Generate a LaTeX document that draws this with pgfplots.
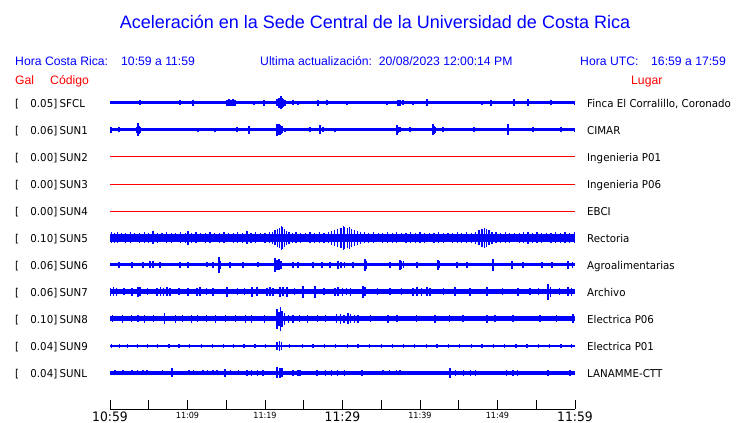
\documentclass[border=0pt]{standalone}
\usepackage{pgfplots}
\pgfplotsset{compat=1.18}
\usepackage{fontspec}
\setmainfont{Liberation Sans}
\newfontfamily\dv[FakeStretch=0.95]{DejaVu Sans}
\definecolor{tblue}{RGB}{0,0,255}
\definecolor{tred}{RGB}{255,0,0}
\pgfplotsset{
  band/.style={draw=tblue, line width=#1, forget plot},
  spk/.style={color=tblue, draw=none, mark=none, forget plot,
    error bars/.cd, y dir=both, y explicit, error mark=none,
    error bar style={draw=tblue, line width=1.2pt}},
}
\begin{document}
\begin{tikzpicture}[x=1pt,y=1pt]
\useasboundingbox (0,0) rectangle (740,423);
\begin{axis}[at={(0pt,0pt)}, anchor=south west, scale only axis,
  width=740pt, height=423pt,
  xmin=-14.1935, xmax=81.2903, ymin=0, ymax=423,
  hide axis, clip=false]
% ---- SFCL (Y=320)
\addplot[band=3pt] coordinates {(0,320) (60,320)};
\addplot[spk] coordinates {
(3.87,320)+-(0,2.5) (9.03,320)+-(0,2.5) (10.71,320)+-(0,3) (15.10,320)+-(0,3)
(15.35,320)+-(0,3.5) (15.61,320)+-(0,3) (15.87,320)+-(0,3.5) (16.13,320)+-(0,3)
(18.58,320)+-(0,2) (19.87,320)+-(0,3) (21.55,320)+-(0,3.5) (21.81,320)+-(0,5)
(22.06,320)+-(0,6.5) (22.19,320)+-(0,5) (22.32,320)+-(0,4) (22.58,320)+-(0,3)
(23.61,320)+-(0,2.5) (24.26,320)+-(0,2) (26.84,320)+-(0,3) (28.0,320)+-(0,2.5)
(30.58,320)+-(0,2) (35.74,320)+-(0,2) (37.16,320)+-(0,3) (37.42,320)+-(0,3)
(37.81,320)+-(0,2.5) (39.10,320)+-(0,2) (40.90,320)+-(0,3.5) (48.0,320)+-(0,2)
(49.16,320)+-(0,3) (52.13,320)+-(0,3.5) (53.94,320)+-(0,3.5) (56.90,320)+-(0,2.5)
(59.9,320)+-(0,2)};
% ---- SUN1 (Y=293)
\addplot[band=3pt] coordinates {(0,293) (60,293)};
\addplot[spk] coordinates {
(0.13,293)+-(0,3) (1.16,293)+-(0,2.5) (3.48,293)+-(0,3) (3.61,293)+-(0,6.5)
(3.74,293)+-(0,4) (3.87,293)+-(0,3) (11.35,293)+-(0,2) (13.55,293)+-(0,2)
(16.39,293)+-(0,2.5) (17.94,293)+-(0,4) (21.55,293)+-(0,6) (21.81,293)+-(0,5.5)
(21.94,293)+-(0,5) (22.06,293)+-(0,4) (22.19,293)+-(0,3.5) (22.58,293)+-(0,2)
(25.81,293)+-(0,2.5) (27.10,293)+-(0,4.5) (27.48,293)+-(0,2.5) (29.03,293)+-(0,2)
(37.03,293)+-(0,5) (37.16,293)+-(0,3) (37.42,293)+-(0,2.5) (38.71,293)+-(0,2.5)
(41.68,293)+-(0,5.5) (41.81,293)+-(0,4) (41.94,293)+-(0,3) (42.97,293)+-(0,2.5)
(46.97,293)+-(0,2.5) (51.35,293)+-(0,5.5) (54.58,293)+-(0,2.5) (58.19,293)+-(0,2.5)
(59.9,293)+-(0,2)};
% ---- SUN2, SUN3, SUN4 (flat)
\addplot[draw=tred, line width=1pt, forget plot] coordinates {(0,266.5) (60,266.5)};
\addplot[draw=tred, line width=1pt, forget plot] coordinates {(0,238.5) (60,238.5)};
\addplot[draw=tred, line width=1pt, forget plot] coordinates {(0,211.5) (60,211.5)};
% ---- SUN5 (Y=185)
\addplot[band=8pt] coordinates {(0,185) (60,185)};
\addplot[spk] coordinates {
(0.2,185)+-(0,5.5) (0.6,185)+-(0,5) (1.0,185)+-(0,5.5) (1.5,185)+-(0,4.5)
(2.0,185)+-(0,5) (2.6,185)+-(0,5.5) (3.2,185)+-(0,4.5) (3.8,185)+-(0,5)
(4.4,185)+-(0,5.5) (5.0,185)+-(0,5) (5.55,185)+-(0,6.5) (6.1,185)+-(0,5)
(6.7,185)+-(0,4.5) (7.3,185)+-(0,5.5) (7.9,185)+-(0,5) (8.5,185)+-(0,4.5)
(9.1,185)+-(0,5.5) (9.7,185)+-(0,5) (10.06,185)+-(0,7) (10.5,185)+-(0,5)
(11.1,185)+-(0,5.5) (11.7,185)+-(0,4.5) (12.3,185)+-(0,5) (12.9,185)+-(0,5.5)
(13.5,185)+-(0,4.5) (14.1,185)+-(0,5) (14.7,185)+-(0,5.5) (15.3,185)+-(0,4.5)
(15.9,185)+-(0,5) (16.5,185)+-(0,5.5) (17.1,185)+-(0,5) (17.68,185)+-(0,6.5)
(18.2,185)+-(0,5) (18.8,185)+-(0,5.5) (19.4,185)+-(0,4.5) (20.0,185)+-(0,5)
(20.6,185)+-(0,5.5) (21.0,185)+-(0,6) (21.3,185)+-(0,7.5) (21.6,185)+-(0,9)
(21.9,185)+-(0,10) (22.1,185)+-(0,12) (22.3,185)+-(0,11) (22.5,185)+-(0,9)
(22.8,185)+-(0,7) (23.1,185)+-(0,6) (23.5,185)+-(0,5) (24.0,185)+-(0,5.5)
(24.6,185)+-(0,5) (25.2,185)+-(0,4.5) (25.8,185)+-(0,5.5) (26.4,185)+-(0,5)
(27.0,185)+-(0,5.5) (27.6,185)+-(0,5) (28.2,185)+-(0,5.5) (28.6,185)+-(0,7)
(29.0,185)+-(0,8) (29.4,185)+-(0,9) (29.8,185)+-(0,10) (30.1,185)+-(0,12)
(30.3,185)+-(0,11) (30.6,185)+-(0,10) (30.9,185)+-(0,11) (31.2,185)+-(0,9)
(31.5,185)+-(0,8) (31.9,185)+-(0,7) (32.3,185)+-(0,6) (32.8,185)+-(0,5.5)
(33.4,185)+-(0,5) (34.0,185)+-(0,5.5) (34.6,185)+-(0,4.5) (35.2,185)+-(0,5)
(35.8,185)+-(0,5.5) (36.4,185)+-(0,5) (37.0,185)+-(0,5.5) (37.6,185)+-(0,4.5)
(38.2,185)+-(0,5) (38.8,185)+-(0,5.5) (39.4,185)+-(0,5) (40.0,185)+-(0,5.5)
(40.6,185)+-(0,5) (41.2,185)+-(0,4.5) (41.8,185)+-(0,5) (42.4,185)+-(0,5.5)
(43.0,185)+-(0,5) (43.6,185)+-(0,4.5) (44.2,185)+-(0,5) (44.8,185)+-(0,5.5)
(45.4,185)+-(0,5) (46.0,185)+-(0,5.5) (46.6,185)+-(0,5) (47.2,185)+-(0,6)
(47.6,185)+-(0,7.5) (48.0,185)+-(0,9) (48.3,185)+-(0,10) (48.6,185)+-(0,9)
(48.9,185)+-(0,7.5) (49.3,185)+-(0,6) (49.8,185)+-(0,5.5) (50.4,185)+-(0,5)
(51.0,185)+-(0,5.5) (51.6,185)+-(0,5) (52.2,185)+-(0,4.5) (52.8,185)+-(0,5)
(53.4,185)+-(0,5.5) (53.94,185)+-(0,6) (54.5,185)+-(0,5) (55.1,185)+-(0,5.5)
(55.7,185)+-(0,5) (56.3,185)+-(0,4.5) (56.9,185)+-(0,5) (57.5,185)+-(0,5.5)
(58.1,185)+-(0,5) (58.7,185)+-(0,5.5) (59.3,185)+-(0,5) (59.9,185)+-(0,5.5)};
% ---- SUN6 (Y=158)
\addplot[band=3pt] coordinates {(0,158) (60,158)};
\addplot[spk] coordinates {
(1.16,158)+-(0,3) (2.84,158)+-(0,3) (4.26,158)+-(0,3) (5.16,158)+-(0,3.5)
(5.55,158)+-(0,3.5) (6.45,158)+-(0,3) (9.03,158)+-(0,3) (10.06,158)+-(0,3)
(12.52,158)+-(0,2.5) (13.29,158)+-(0,3) (14.06,158)+-(0,8) (14.3,158)+-(0,4)
(15.48,158)+-(0,3) (17.16,158)+-(0,3) (19.10,158)+-(0,2.5) (21.29,158)+-(0,7)
(21.55,158)+-(0,5) (21.81,158)+-(0,5.5) (22.06,158)+-(0,4) (23.61,158)+-(0,3)
(24.26,158)+-(0,3) (26.19,158)+-(0,3) (27.35,158)+-(0,3) (28.39,158)+-(0,3)
(29.42,158)+-(0,4) (29.8,158)+-(0,3) (30.3,158)+-(0,3) (31.35,158)+-(0,3)
(32.90,158)+-(0,6) (33.1,158)+-(0,4) (36.13,158)+-(0,3) (37.42,158)+-(0,5)
(37.6,158)+-(0,4) (37.9,158)+-(0,3.5) (39.61,158)+-(0,3) (42.32,158)+-(0,5)
(42.5,158)+-(0,3.5) (44.77,158)+-(0,3) (46.06,158)+-(0,3) (49.42,158)+-(0,6)
(51.87,158)+-(0,4) (53.29,158)+-(0,3) (55.74,158)+-(0,3) (57.03,158)+-(0,3)
(59.10,158)+-(0,4) (59.7,158)+-(0,3)};
% ---- SUN7 (Y=131)
\addplot[band=5pt] coordinates {(0,131) (60,131)};
\addplot[spk] coordinates {
(0.1,131)+-(0,4) (0.4,131)+-(0,4.5) (0.8,131)+-(0,4) (1.8,131)+-(0,3.5) (2.84,131)+-(0,4)
(3.6,131)+-(0,5) (3.87,131)+-(0,4.5) (4.8,131)+-(0,3.5) (6.06,131)+-(0,4) (6.5,131)+-(0,4.5)
(6.9,131)+-(0,4) (7.35,131)+-(0,4.5) (7.74,131)+-(0,4) (8.9,131)+-(0,3.5) (10.06,131)+-(0,4)
(11.23,131)+-(0,4) (11.61,131)+-(0,4.5) (12.4,131)+-(0,3.5) (13.29,131)+-(0,4) (15.10,131)+-(0,5)
(16.5,131)+-(0,3.5) (17.4,131)+-(0,3.5)
(18.32,131)+-(0,5) (18.97,131)+-(0,4.5) (20.26,131)+-(0,4) (20.65,131)+-(0,4.5)
(21.03,131)+-(0,4) (21.94,131)+-(0,5) (22.32,131)+-(0,4.5) (22.84,131)+-(0,5)
(23.8,131)+-(0,3.5) (24.90,131)+-(0,6) (26.45,131)+-(0,6) (27.6,131)+-(0,3.5) (29.03,131)+-(0,4) (29.42,131)+-(0,4.5)
(30.0,131)+-(0,4) (30.5,131)+-(0,3.5) (31.0,131)+-(0,4) (32.65,131)+-(0,6)
(32.9,131)+-(0,4.5) (34.5,131)+-(0,3.5) (36.13,131)+-(0,3.5) (37.6,131)+-(0,3.5) (39.10,131)+-(0,4) (39.6,131)+-(0,4.5)
(40.2,131)+-(0,4) (40.9,131)+-(0,4.5) (41.29,131)+-(0,4) (43.0,131)+-(0,3.5) (44.52,131)+-(0,4.5)
(46.45,131)+-(0,4) (48.65,131)+-(0,4.5) (50.6,131)+-(0,3.5) (52.65,131)+-(0,4) (54.19,131)+-(0,3.5)
(55.3,131)+-(0,3.5) (56.52,131)+-(0,8) (56.8,131)+-(0,5) (58.0,131)+-(0,3.5) (59.10,131)+-(0,4.5) (59.6,131)+-(0,4)};
% ---- SUN8 (Y=104)
\addplot[band=5pt] coordinates {(0,104) (60,104)};
\addplot[spk] coordinates {
(0.3,104)+-(0,3.5) (1.6,104)+-(0,4) (2.8,104)+-(0,3.5) (3.6,104)+-(0,3.5)
(4.4,104)+-(0,4) (5.6,104)+-(0,3.5) (7.0,104)+-(0,5.5) (8.5,104)+-(0,4)
(9.4,104)+-(0,3.5) (10.5,104)+-(0,4) (11.3,104)+-(0,3.5) (12.5,104)+-(0,3.5)
(13.6,104)+-(0,4) (14.9,104)+-(0,3.5) (16.2,104)+-(0,3.5) (17.5,104)+-(0,4)
(18.3,104)+-(0,4) (19.9,104)+-(0,4) (21.55,104)+-(0,10) (21.8,104)+-(0,7)
(22.0,104)+-(0,12) (22.2,104)+-(0,8) (22.5,104)+-(0,6) (23.0,104)+-(0,4)
(23.6,104)+-(0,4) (24.4,104)+-(0,3.5) (25.5,104)+-(0,4) (26.8,104)+-(0,3.5)
(27.8,104)+-(0,3.5) (29.2,104)+-(0,4.5) (29.7,104)+-(0,5) (30.2,104)+-(0,4)
(30.7,104)+-(0,5.5) (31.0,104)+-(0,4.5) (31.5,104)+-(0,4) (32.0,104)+-(0,4)
(33.6,104)+-(0,3.5) (35.87,104)+-(0,4) (37.03,104)+-(0,3.5) (39.5,104)+-(0,3.5) (41.94,104)+-(0,4) (43.8,104)+-(0,3.5) (45.55,104)+-(0,3.5)
(48.65,104)+-(0,4) (49.68,104)+-(0,3.5) (52.0,104)+-(0,3.5) (55.48,104)+-(0,3.5) (57.6,104)+-(0,3.5)
(59.74,104)+-(0,4.5)};
% ---- SUN9 (Y=77)
\addplot[band=2.6pt] coordinates {(0,77) (60,77)};
\addplot[spk] coordinates {
(0.2,77)+-(0,2) (1.2,77)+-(0,2) (2.3,77)+-(0,2) (3.5,77)+-(0,2) (4.8,77)+-(0,2)
(6.1,77)+-(0,2) (7.6,77)+-(0,2) (8.9,77)+-(0,2) (10.3,77)+-(0,2) (11.8,77)+-(0,2)
(13.2,77)+-(0,2) (14.6,77)+-(0,2) (15.9,77)+-(0,2) (17.3,77)+-(0,2) (18.7,77)+-(0,2)
(20.1,77)+-(0,2) (21.55,77)+-(0,4) (21.9,77)+-(0,5) (22.1,77)+-(0,4) (23.2,77)+-(0,2)
(24.8,77)+-(0,2) (26.2,77)+-(0,2) (27.7,77)+-(0,2) (29.1,77)+-(0,2) (30.6,77)+-(0,2)
(32.0,77)+-(0,2) (33.5,77)+-(0,2) (35.0,77)+-(0,2) (36.4,77)+-(0,2) (37.9,77)+-(0,2)
(39.3,77)+-(0,2) (40.8,77)+-(0,2) (42.2,77)+-(0,2) (43.7,77)+-(0,2) (45.1,77)+-(0,2)
(46.6,77)+-(0,2) (48.0,77)+-(0,2) (49.5,77)+-(0,2) (50.9,77)+-(0,2) (52.4,77)+-(0,2)
(53.8,77)+-(0,2) (55.3,77)+-(0,2) (56.7,77)+-(0,2) (58.2,77)+-(0,2) (59.6,77)+-(0,2)};
% ---- SUNL (Y=50)
\addplot[band=3.4pt] coordinates {(0,50) (60,50)};
\addplot[spk] coordinates {
(0.65,50)+-(0,2.5) (1.68,50)+-(0,2.5) (2.84,50)+-(0,2.5) (3.5,50)+-(0,2.5)
(4.26,50)+-(0,2.5) (4.77,50)+-(0,2.5) (6.8,50)+-(0,2.5) (8.00,50)+-(0,4.5)
(10.2,50)+-(0,2.5) (10.8,50)+-(0,2.5) (12.0,50)+-(0,2.5) (12.6,50)+-(0,2.5)
(13.3,50)+-(0,2.5) (13.81,50)+-(0,2.5) (14.84,50)+-(0,4) (15.5,50)+-(0,2.5)
(16.6,50)+-(0,2.5) (17.68,50)+-(0,3) (18.3,50)+-(0,3) (19.0,50)+-(0,3)
(19.74,50)+-(0,3) (21.55,50)+-(0,5.5) (21.94,50)+-(0,5) (22.19,50)+-(0,4.5)
(23.61,50)+-(0,3) (24.26,50)+-(0,3) (24.52,50)+-(0,3) (26.71,50)+-(0,3)
(27.8,50)+-(0,3) (28.6,50)+-(0,3) (29.4,50)+-(0,3) (30.3,50)+-(0,3)
(32.52,50)+-(0,3) (35.23,50)+-(0,2.5) (36.1,50)+-(0,2.5) (37.0,50)+-(0,2.5)
(37.42,50)+-(0,2.5) (43.87,50)+-(0,5) (44.6,50)+-(0,3) (45.6,50)+-(0,3)
(46.5,50)+-(0,3) (47.2,50)+-(0,3) (51.2,50)+-(0,3) (52.0,50)+-(0,3)
(52.6,50)+-(0,3) (56.52,50)+-(0,3) (59.35,50)+-(0,3)};
\end{axis}
% ---- time axis
\begin{axis}[at={(110pt,14pt)}, anchor=south west, scale only axis,
  width=465pt, height=20pt, xmin=0, xmax=60, ymin=0, ymax=1,
  axis x line*=bottom, hide y axis,
  xtick={0,5,...,60},
  xticklabels={{\fontsize{13}{13}\selectfont 10:59},,{\fontsize{8.5}{9}\selectfont 11:09},,{\fontsize{8.5}{9}\selectfont 11:19},,{\fontsize{13}{13}\selectfont 11:29},,{\fontsize{8.5}{9}\selectfont 11:39},,{\fontsize{8.5}{9}\selectfont 11:49},,{\fontsize{13}{13}\selectfont 11:59}},
  tick align=inside, major tick length=9pt,
  tick style={black, line width=0.8pt},
  axis line style={black, line width=0.8pt},
  xticklabel style={anchor=north, inner sep=0pt, yshift=-2.5pt, font=\dv}]
\addplot[draw=none] coordinates {(0,0.5) (60,0.5)};
\end{axis}
% ---- header texts
\node[anchor=base, text=tblue, font=\fontsize{18}{20}\selectfont] at (375,394) {Aceleración en la Sede Central de la Universidad de Costa Rica};
\begin{scope}[every node/.style={anchor=base west, text=tblue, inner sep=0pt, font=\fontsize{12.2}{14}\selectfont}]
\node at (15,357) {Hora Costa Rica:};
\node at (121,357) {10:59 a 11:59};
\node at (260,357) {Ultima actualización:\ \ 20/08/2023 12:00:14 PM};
\node at (580,357) {Hora UTC:};
\node at (651,357) {16:59 a 17:59};
\end{scope}
\begin{scope}[every node/.style={anchor=base west, text=tred, inner sep=0pt, font=\fontsize{12.2}{14}\selectfont}]
\node at (15,338) {Gal};
\node at (50,338) {Código};
\node at (631,338) {Lugar};
\end{scope}
% ---- trace labels
\begin{scope}[every node/.style={inner sep=0pt, font=\dv\fontsize{10.8}{12}\selectfont}]
\foreach \v/\c/\l [count=\i from 0] in {0.05/SFCL/{Finca El Corralillo, Coronado},0.06/SUN1/CIMAR,0.00/SUN2/Ingenieria P01,0.00/SUN3/Ingenieria P06,0.00/SUN4/EBCI,0.10/SUN5/Rectoria,0.06/SUN6/Agroalimentarias,0.06/SUN7/Archivo,0.10/SUN8/Electrica P06,0.04/SUN9/Electrica P01,0.04/SUNL/LANAMME-CTT}{
  \pgfmathsetmacro\yy{315-27*\i}
  \node[anchor=base west] at (15,\yy) {[};
  \node[anchor=base east] at (57.5,\yy) {\v]};
  \node[anchor=base west] at (59.5,\yy) {\c};
  \node[anchor=base west] at (587,\yy) {\l};
}
\end{scope}
\end{tikzpicture}
\end{document}
